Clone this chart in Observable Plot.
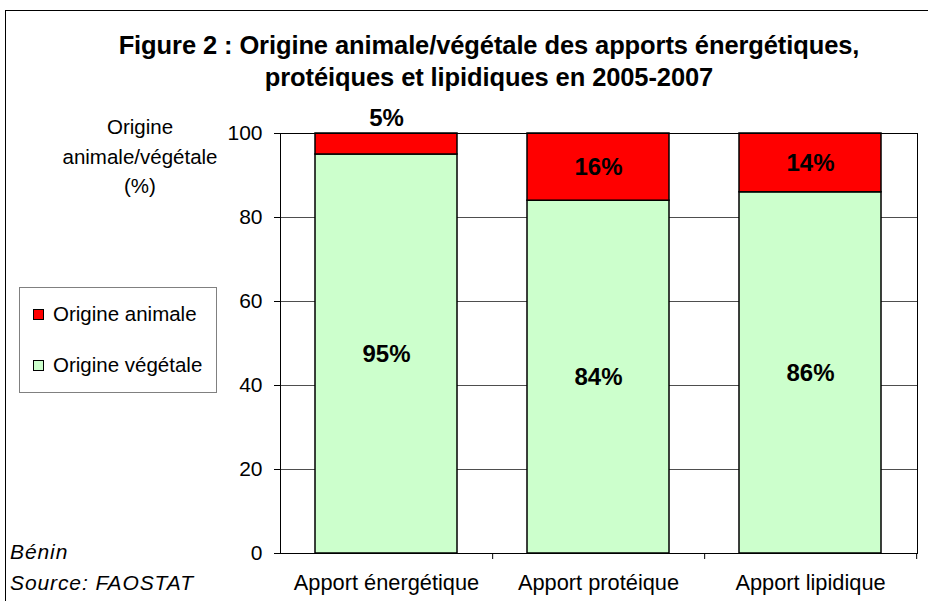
<!DOCTYPE html>
<html>
<head>
<meta charset="utf-8">
<script src="https://cdn.jsdelivr.net/npm/d3@7"></script>
<script src="https://cdn.jsdelivr.net/npm/@observablehq/plot@0.6"></script>
<style>
  html, body { margin: 0; padding: 0; background: #fff; }
  #wrap { position: relative; width: 928px; height: 601px; overflow: hidden; font-family: "Liberation Sans", Arial, sans-serif; color: #000; }
  #wrap svg { position: absolute; left: 0; top: 0; }
  .ov { position: absolute; }
  #border { left: 5px; top: 10px; width: 1000px; height: 700px; border: 1px solid #000; box-sizing: border-box; }
  #title { left: 0; top: 29px; width: 978px; text-align: center; font-weight: bold; font-size: 25.5px; line-height: 32px; letter-spacing: -0.1px; }
  #ytitle { left: 40px; top: 112px; width: 200px; text-align: center; font-size: 20.5px; line-height: 29.5px; }
  #legend { left: 19px; top: 287px; width: 198px; height: 106px; border: 1px solid #808080; box-sizing: border-box; background: #fff; }
  .li { position: absolute; left: 13px; font-size: 20.5px; line-height: 24px; white-space: nowrap; }
  .sw { display: inline-block; width: 9px; height: 9px; border: 1px solid #000; margin-right: 9px; vertical-align: 1px; }
  .note { left: 10px; font-style: italic; font-size: 21px; letter-spacing: 0.9px; line-height: 24px; }
</style>
</head>
<body>
<div id="wrap">
  <div class="ov" id="border"></div>
  <div id="chart"></div>
  <div class="ov" id="title"></div>
  <div class="ov" id="ytitle"></div>
  <div class="ov" id="legend"></div>
  <div class="ov note" id="country" style="top:540px"></div>
  <div class="ov note" id="source" style="top:571px"></div>
</div>
<script>
const titleLines = ["Figure 2 : Origine animale/végétale des apports énergétiques,", "protéiques et lipidiques en 2005-2007"];
const yTitleLines = ["Origine", "animale/végétale", "(%)"];
const categories = ["Apport énergétique", "Apport protéique", "Apport lipidique"];
const series = ["Origine végétale", "Origine animale"];
const vegetale = [95, 84, 86];
const animale = [5, 16, 14];
const colors = ["#ccffcc", "#ff0000"];
const legendOrder = ["Origine animale", "Origine végétale"];
const yTicks = [0, 20, 40, 60, 80, 100];
const country = "Bénin";
const source = "Source: FAOSTAT";

// Build stacked rows
const rows = [];
categories.forEach((c, i) => {
  rows.push({cat: c, origin: series[0], value: vegetale[i], y1: 0, y2: vegetale[i]});
  rows.push({cat: c, origin: series[1], value: animale[i], y1: vegetale[i], y2: vegetale[i] + animale[i]});
});
const inside = rows.filter(d => d.value >= 8).map(d => ({...d, ym: (d.y1 + d.y2) / 2, label: d.value + "%"}));
const above = rows.filter(d => d.value < 8).map(d => ({...d, label: d.value + "%"}));

const colorOf = Object.fromEntries(series.map((s, i) => [s, colors[i]]));

const W = 928, H = 601, ML = 280, MR = 11, MT = 133, MB = 48;
const step = (W - ML - MR) / categories.length;

const chart = Plot.plot({
  width: W, height: H,
  marginLeft: ML, marginRight: MR, marginTop: MT, marginBottom: MB,
  style: {fontFamily: "'Liberation Sans', Arial, sans-serif", fontSize: "18px", color: "#000", background: "transparent", overflow: "visible"},
  x: {domain: categories, paddingInner: 0.33, paddingOuter: 0.165},
  y: {domain: [0, 100]},
  color: {domain: series, range: colors},
  marks: [
    Plot.gridY(yTicks, {stroke: "#222", strokeOpacity: 0.8, strokeWidth: 1}),
    Plot.barY(rows, {x: "cat", y1: "y1", y2: "y2", fill: "origin", stroke: "#000", strokeWidth: 1.5}),
    Plot.frame({stroke: "#000", strokeWidth: 1}),
    Plot.ruleX(categories, {x: d => d, y1: 0, y2: 0, dx: step / 2, insetBottom: -6, stroke: "#000"}),
    Plot.axisY({ticks: yTicks, tickSize: 6, tickPadding: 12, label: null, fontSize: 21, stroke: "#000"}),
    Plot.axisX({tickSize: 0, tickPadding: 21, label: null, fontSize: 21.8}),
    Plot.text(inside, {x: "cat", y: "ym", text: "label", fontWeight: "bold", fontSize: 24, fill: "#000"}),
    Plot.text(above, {x: "cat", y: "y2", text: "label", fontWeight: "bold", fontSize: 24, dy: -15, fill: "#000"})
  ]
});
document.getElementById("chart").appendChild(chart);

document.getElementById("title").innerHTML = titleLines.join("<br>");
document.getElementById("ytitle").innerHTML = yTitleLines.join("<br>");
const leg = document.getElementById("legend");
legendOrder.forEach((s, i) => {
  const item = document.createElement("div");
  item.className = "li";
  item.style.top = (14 + i * 51) + "px";
  const sw = document.createElement("span");
  sw.className = "sw";
  sw.style.background = colorOf[s];
  item.appendChild(sw);
  item.appendChild(document.createTextNode(s));
  leg.appendChild(item);
});
document.getElementById("country").textContent = country;
document.getElementById("source").textContent = source;
</script>
</body>
</html>
